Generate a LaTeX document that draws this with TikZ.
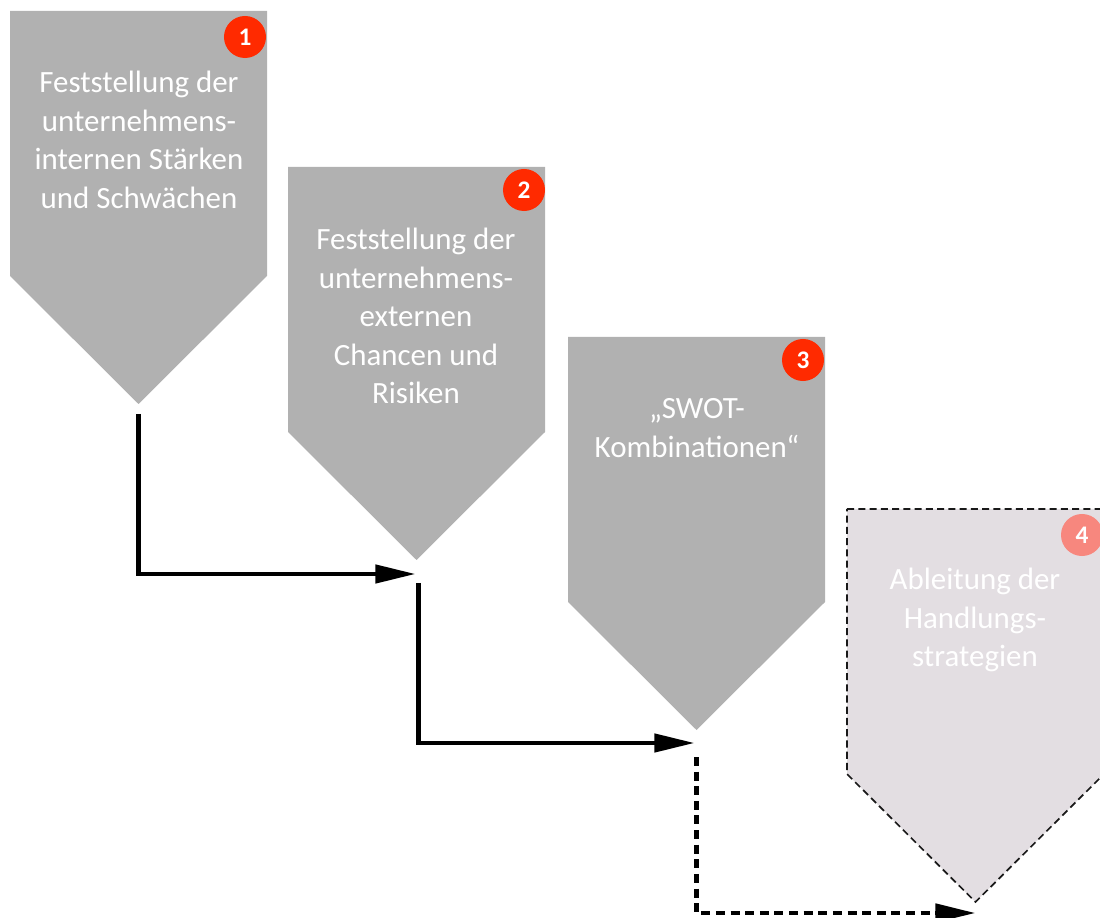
\documentclass[tikz,border=0pt]{standalone}
\usepackage{fontspec}
\setmainfont{Carlito}
\usetikzlibrary{arrows.meta,calc}
\definecolor{SwotGray}{HTML}{B1B1B1}
\definecolor{SwotPale}{HTML}{E3DEE2}
\definecolor{SwotRed}{HTML}{FF2A00}
\definecolor{SwotRose}{HTML}{F7877E}
\tikzset{
  steptext/.style={align=center,text=white,font=\fontsize{22}{27.4}\selectfont},
  badge/.style={circle,fill=SwotRed,text=white,minimum size=1.05cm,inner sep=0pt,
    font=\bfseries\fontsize{18}{19}\selectfont},
  flow/.style={-{Triangle[length=1.0cm,width=0.45cm]},line width=3.1pt},
  dashflow/.style={flow,line width=3.3pt,dash pattern=on 6.4pt off 4pt},
}
% one step: name of tip, left x, top y, path options
\newcommand{\swotstep}[4]{%
  \path[#4] (#2,#3) -- ++(257,0) -- ++(0,265) -- ++(-128.5,128)
    -- ++(-128.5,-128) -- cycle;
  \coordinate (#1) at (#2+128.5,#3+393);}
\begin{document}
\begin{tikzpicture}[x=0.025cm,y=-0.025cm]
        \useasboundingbox (0,0) rectangle (1100,918);
        \clip (0,0) rectangle (1100,918);

        \swotstep{tip1}{10}{11}{fill=SwotGray}
        \swotstep{tip2}{288}{167}{fill=SwotGray}
        \swotstep{tip3}{568}{337}{fill=SwotGray}
        \swotstep{tip4}{847}{509}{fill=SwotPale,draw=black!90,line width=1.2pt,
          dash pattern=on 5pt off 3pt}

        \node[steptext] (text1) at (139,140)
          {Feststellung der\\unternehmens-\\internen Stärken\\und Schwächen};
        \node[steptext] (text2) at (416,316)
          {Feststellung der\\unternehmens-\\externen\\Chancen und\\Risiken};
        \node[steptext] (text3) at (697,428)
          {„SWOT-\\Kombinationen“};
        \node[steptext] (text4) at (975,620)
          {Ableitung der\\Handlungs-\\strategien};

        \node[badge] (badge1) at (245,37) {1};
        \node[badge] (badge2) at (524,190) {2};
        \node[badge] (badge3) at (803,360) {3};
        \node[badge,fill=SwotRose] (badge4) at (1082,535) {4};

        \draw[flow] ($(tip1)+(0,10)$) |- ($(tip2)+(-1,14)$);
        \draw[flow] ($(tip2)+(2,23)$) |- ($(tip3)+(-2,13)$);
        \draw[dashflow] ($(tip3)+(0,27)$) |- ($(tip4)+(0,11)$);
\end{tikzpicture}
\end{document}
